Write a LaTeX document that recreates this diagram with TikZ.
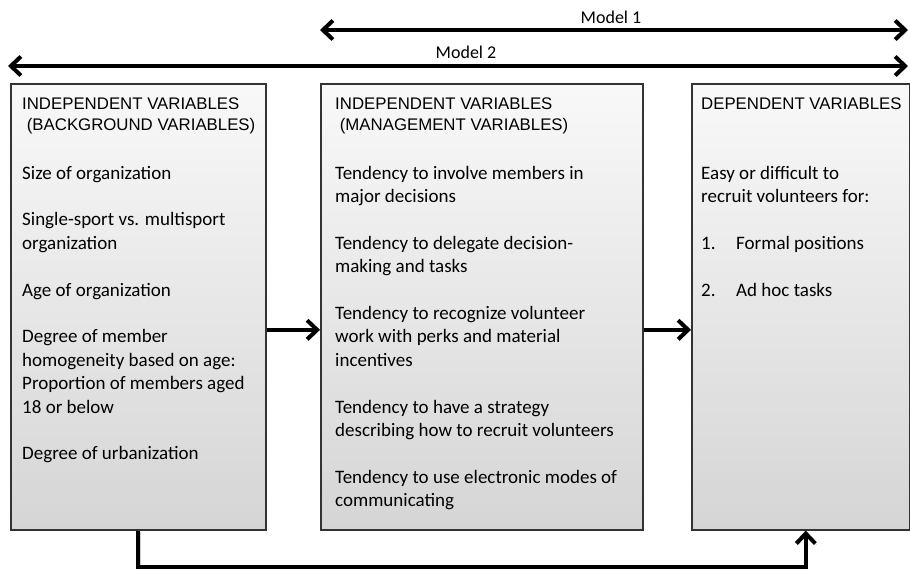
\documentclass[tikz,border=0pt]{standalone}
\usepackage{fontspec}
\setmainfont{Carlito}
\newfontfamily\headfont{Liberation Sans}
\usetikzlibrary{arrows.meta,positioning}
\newcommand{\itemgap}{\\[23.4pt]}

\begin{document}
\begin{tikzpicture}[x=1pt,y=-1pt]
    \tikzset{varbox/.style={draw=black!80, line width=1.6pt, top color=gray!5, bottom color=gray!33,
                            anchor=north west, minimum height=446, inner sep=0pt}}
    \tikzset{headtext/.style={anchor=north west, inner sep=0pt, align=left,
                              font=\headfont\fontsize{16.8}{21.5}\selectfont}}
    \tikzset{bodytext/.style={anchor=north west, inner sep=0pt, align=left,
                              font=\fontsize{19}{23.4}\selectfont}}
    \tikzset{barb/.style={line width=4pt, preaction={draw=gray!40, transform canvas={shift={(1.5,1.5)}}}}}
    \tikzset{flow/.style={barb, -{Straight Barb[length=10pt,width=19pt]}}}
    \tikzset{span/.style={barb, {Straight Barb[length=10pt,width=19pt]}-{Straight Barb[length=10pt,width=19pt]}}}
    \useasboundingbox (0,0) rectangle (910,568);
    % the three boxes
    \node[varbox, minimum width=255] (bg) at (10,83) {};
    \node[varbox, minimum width=322] (mgmt) at (320,83) {};
    \node[varbox, minimum width=218] (dep) at (691,83) {};
    % headings
    \node[headtext] (bghead) at (22,94) {\strut INDEPENDENT VARIABLES\\\ (BACKGROUND VARIABLES)};
    \node[headtext] (mgmthead) at (335,94) {\strut INDEPENDENT VARIABLES\\\ (MANAGEMENT VARIABLES)};
    \node[headtext] (dephead) at (701,94) {\strut DEPENDENT VARIABLES};
    % variables
    \node[bodytext] (bgbody) at (22,162.5) {\strut Size of organization\itemgap
        Single-sport vs. multisport\\organization\itemgap
        Age of organization\itemgap
        Degree of member\\homogeneity based on age:\\Proportion of members aged\\18 or below\itemgap
        Degree of urbanization};
    \node[bodytext] (mgmtbody) at (335,162.5) {\strut Tendency to involve members in\\major decisions\itemgap
        Tendency to delegate decision-\\making and tasks\itemgap
        Tendency to recognize volunteer\\work with perks and material\\incentives\itemgap
        Tendency to have a strategy\\describing how to recruit volunteers\itemgap
        Tendency to use electronic modes of\\communicating};
    \node[bodytext] (depbody) at (701,162.5) {\strut Easy or difficult to\\recruit volunteers for:\itemgap
        \makebox[35pt][l]{1.}Formal positions\itemgap
        \makebox[35pt][l]{2.}Ad hoc tasks};
    % models
    \coordinate (m1a) at (320,30);
    \coordinate (m1b) at (908,30);
    \coordinate (m2a) at (8,66);
    \coordinate (m2b) at (908,66);
    \node[font=\fontsize{18}{20}\selectfont] (m1) at (611,17) {Model 1};
    \node[font=\fontsize{18}{20}\selectfont] (m2) at (466,52) {Model 2};
    \draw[span] (m1a) -- (m1b);
    \draw[span] (m2a) -- (m2b);
    % effects
    \draw[flow] ([yshift=-23pt]bg.east) -- ([yshift=-23pt]mgmt.west);
    \draw[flow] ([yshift=-23pt]mgmt.east) -- ([yshift=-23pt]dep.west);
    \draw[flow] (bg.south) -- ++(0,36) -| ([xshift=5pt]dep.south);
\end{tikzpicture}
\end{document}
